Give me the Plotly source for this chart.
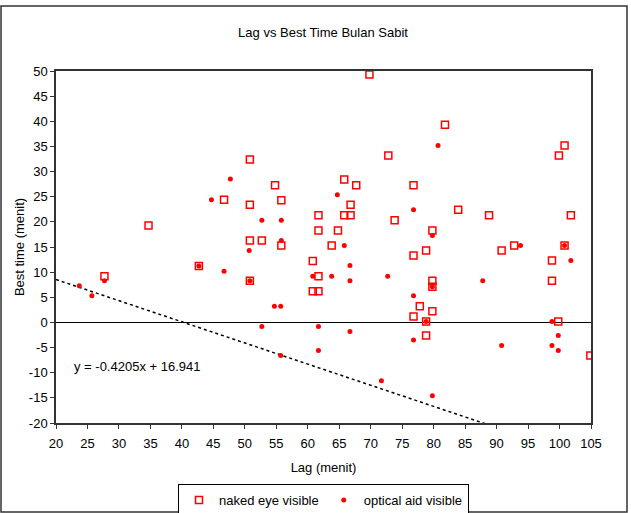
import plotly.graph_objects as go

# Naked eye visible (open squares)
naked_lag = [27.7, 34.7, 42.7, 46.7, 50.8, 50.8, 50.8, 50.8, 52.7, 54.8, 55.8, 55.8,
             60.8, 60.8, 61.7, 61.7, 61.7, 61.7, 63.8, 64.8, 65.8, 65.8, 66.8, 66.8,
             67.7, 69.8, 72.8, 73.8, 76.8, 76.8, 76.8, 77.8, 78.8, 78.8, 78.8, 79.8,
             79.8, 79.8, 79.8, 81.8, 83.9, 88.8, 90.8, 92.8, 98.8, 98.8, 99.9, 100.8,
             99.8, 100.8, 101.8, 104.9]
naked_best = [9.2, 19.3, 11.2, 24.4, 32.4, 23.4, 16.3, 8.3, 16.3, 27.3, 24.3, 15.3,
              12.2, 6.2, 6.2, 9.2, 18.3, 21.3, 15.3, 18.3, 28.4, 21.3, 21.3, 23.4,
              27.3, 49.3, 33.2, 20.3, 27.3, 13.3, 1.2, 3.2, 14.3, 0.2, -2.6, 18.3,
              8.3, 7.1, 2.2, 39.3, 22.4, 21.3, 14.3, 15.3, 12.3, 8.3, 33.2, 35.2,
              0.2, 15.3, 21.3, -6.6]

# Optical aid visible (filled dots)
optical_lag = [23.7, 25.7, 27.7, 42.7, 44.7, 46.7, 47.7, 50.7, 50.8, 52.7, 52.7, 54.7,
               55.7, 55.8, 55.8, 55.7, 60.8, 61.7, 61.7, 63.8, 64.7, 65.8, 66.7, 66.7,
               66.7, 71.7, 72.7, 76.8, 76.8, 76.8, 78.8, 79.8, 79.8, 79.8, 80.7, 87.8,
               90.8, 93.8, 98.8, 98.8, 99.8, 99.8, 100.8, 101.8]
optical_best = [7.3, 5.3, 8.3, 11.2, 24.4, 10.2, 28.5, 14.3, 8.3, 20.3, -0.8, 3.2,
                3.2, 20.3, 16.3, -6.6, 9.2, -0.8, -5.6, 9.2, 25.4, 15.3, 11.3, 8.3,
                -1.8, -11.6, 9.2, 22.4, 5.3, -3.5, 0.2, 17.3, 7.1, -14.6, 35.2, 8.3,
                -4.6, 15.3, 0.2, -4.6, -2.6, -5.6, 15.3, 12.3]

# Linear trendline shown on chart
trend_slope = -0.4205
trend_intercept = 16.941
trend_x = [20, 105]
trend_y = [trend_slope * v + trend_intercept for v in trend_x]

x_ticks = list(range(20, 106, 5))
y_ticks = list(range(-20, 51, 5))

FONT = "Liberation Sans, Arial, sans-serif"
RED = "#FF0000"

fig = go.Figure()
fig.add_trace(go.Scatter(
    x=trend_x, y=trend_y, mode="lines", showlegend=False,
    line=dict(color="black", width=1.5, dash="dot"), hoverinfo="skip"))
fig.add_trace(go.Scatter(
    x=naked_lag, y=naked_best, mode="markers", name="naked eye visible",
    marker=dict(symbol="square-open", size=7, color=RED, line=dict(width=1.5, color=RED))))
fig.add_trace(go.Scatter(
    x=optical_lag, y=optical_best, mode="markers", name="optical aid visible",
    marker=dict(symbol="circle", size=5, color=RED)))

fig.add_annotation(x=22.6, y=-8.8, xref="x", yref="y", text="y = -0.4205x + 16.941",
                   showarrow=False, xanchor="left", yanchor="middle",
                   font=dict(family=FONT, size=13, color="black"))

# outer chart frame
fig.add_shape(type="rect", xref="paper", yref="paper",
              x0=(1 - 56) / 535, x1=(627 - 56) / 535,
              y0=(423 - 512) / 352, y1=(423 - 6) / 352,
              line=dict(color="#333333", width=1.5), fillcolor="rgba(0,0,0,0)", layer="below")

fig.update_layout(
    width=631, height=513,
    margin=dict(l=56, r=40, t=71, b=90, autoexpand=False),
    paper_bgcolor="white", plot_bgcolor="white",
    font=dict(family=FONT, size=13, color="black"),
    title=dict(text="Lag vs Best Time Bulan Sabit", x=(323 - 0) / 631, xanchor="center",
               y=1 - 32 / 513, yanchor="middle", font=dict(family=FONT, size=13)),
    legend=dict(orientation="h", x=0.5, xanchor="center", y=(423 - 484) / 352, yanchor="top",
                bordercolor="black", borderwidth=1, font=dict(family=FONT, size=13),
                itemwidth=30, tracegroupgap=0),
    showlegend=True,
)
fig.update_xaxes(
    range=[20, 105], tickvals=x_ticks, ticktext=[str(v) for v in x_ticks],
    showgrid=False, zeroline=False, showline=True, mirror=True, automargin=False,
    linecolor="#333333", linewidth=1.5, ticks="outside", ticklen=4, tickcolor="#333333",
    ticklabelstandoff=4,
    title=dict(text="Lag (menit)", standoff=13, font=dict(family=FONT, size=13)),
    tickfont=dict(family=FONT, size=13))
fig.update_yaxes(
    range=[-20, 50], tickvals=y_ticks, ticktext=[str(v) for v in y_ticks],
    showgrid=False, zeroline=True, zerolinecolor="black", zerolinewidth=1,
    showline=True, mirror=True, automargin=False,
    linecolor="#333333", linewidth=1.5, ticks="outside", ticklen=4, tickcolor="#333333",
    title=dict(text="Best time (menit)", standoff=1, font=dict(family=FONT, size=13)),
    tickfont=dict(family=FONT, size=13))

fig.write_html("out.html", config={"displayModeBar": False},
               post_script="document.body.style.margin='0';")
